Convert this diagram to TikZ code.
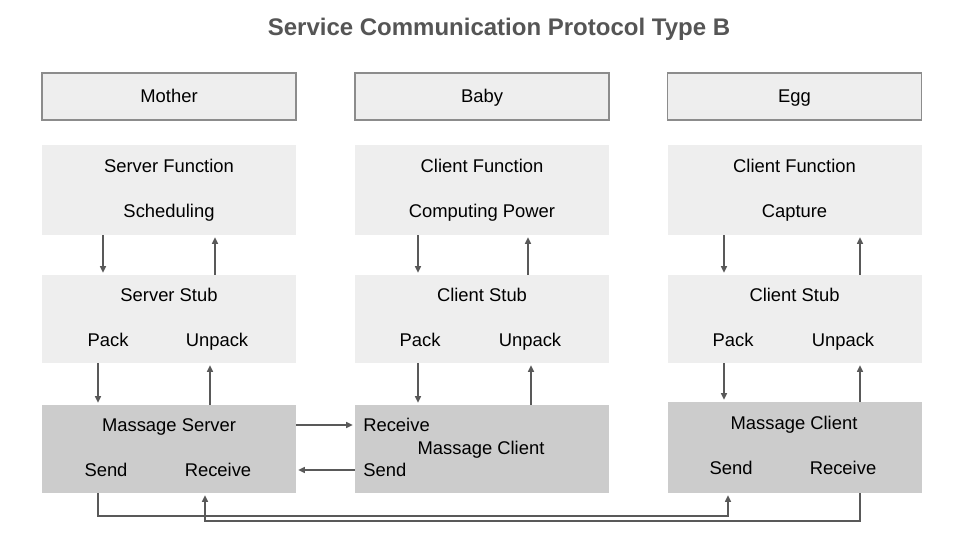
\documentclass[tikz,border=0pt]{standalone}
\usepackage{fontspec}
\setmainfont{Liberation Sans}
\usetikzlibrary{arrows.meta,calc}
\definecolor{lightbox}{HTML}{EEEEEE}
\definecolor{darkbox}{HTML}{CCCCCC}
\definecolor{boxline}{HTML}{8C8C8C}
\definecolor{linec}{HTML}{595959}
\definecolor{titlec}{HTML}{555555}
\begin{document}
\begin{tikzpicture}[x=0.75pt,y=-0.75pt,
  hdrbox/.style={draw=boxline,line width=0.8pt,fill=lightbox,minimum width=190.5pt,minimum height=35.25pt,inner sep=0pt},
  lbox/.style={fill=lightbox,minimum width=190.5pt,inner sep=0pt},
  dbox/.style={fill=darkbox,minimum width=190.5pt,inner sep=0pt},
  txt/.style={font=\fontsize{13.8}{16}\selectfont,text=black,inner sep=0pt,text height=9.8pt,text depth=0pt},
  arr/.style={draw=linec,line width=1.1pt,-{Triangle[length=5pt,width=4.5pt]},shorten >=1.5pt}
]
\useasboundingbox (0,0) rectangle (960,540);
\node[font=\bfseries\fontsize{18}{21}\selectfont,text=titlec] (title) at (499,29) {Service Communication Protocol Type B};

% header boxes
\node[hdrbox] (h1) at (169,96.5) {};
\node[hdrbox] (h2) at (482,96.5) {};
\node[hdrbox] (h3) at (794.5,96.5) {};
\node[txt] (th1) at (169,96) {Mother};
\node[txt] (th2) at (482,96) {Baby};
\node[txt] (th3) at (794.5,96) {Egg};

% function boxes
\node[lbox,minimum height=67.5pt] (f1) at (169,190) {};
\node[lbox,minimum height=67.5pt] (f2) at (482,190) {};
\node[lbox,minimum height=67.5pt] (f3) at (794.5,190) {};
\node[txt] (tf1) at (169,166) {Server Function};
\node[txt] (tg1) at (169,211) {Scheduling};
\node[txt] (tf2) at (482,166) {Client Function};
\node[txt] (tg2) at (482,211) {Computing Power};
\node[txt] (tf3) at (794.5,166) {Client Function};
\node[txt] (tg3) at (794.5,211) {Capture};

% stub boxes
\node[lbox,minimum height=66pt] (s1) at (169,319) {};
\node[lbox,minimum height=66pt] (s2) at (482,319) {};
\node[lbox,minimum height=66pt] (s3) at (794.5,319) {};
\node[txt] (ts1) at (169,295) {Server Stub};
\node[txt] (ts2) at (482,295) {Client Stub};
\node[txt] (ts3) at (794.5,295) {Client Stub};
\node[txt] (pk1) at (108,340) {Pack};
\node[txt] (up1) at (217,340) {Unpack};
\node[txt] (pk2) at (420,340) {Pack};
\node[txt] (up2) at (530,340) {Unpack};
\node[txt] (pk3) at (733,340) {Pack};
\node[txt] (up3) at (843,340) {Unpack};

% massage boxes
\node[dbox,minimum height=66pt] (m1) at (169,449) {};
\node[dbox,minimum height=66pt] (m2) at (482,449) {};
\node[dbox,minimum height=68.25pt] (m3) at (794.5,447.5) {};
\node[txt] (tm1) at (169,425) {Massage Server};
\node[txt] (snd1) at (106,470) {Send};
\node[txt] (rcv1) at (218,470) {Receive};
\node[txt,anchor=west] (rcv2) at (363,425) {Receive};
\node[txt] (tm2) at (481,448) {Massage Client};
\node[txt,anchor=west] (snd2) at (363,470) {Send};
\node[txt] (tm3) at (794,423) {Massage Client};
\node[txt] (snd3) at (731,468) {Send};
\node[txt] (rcv3) at (843,468) {Receive};

% vertical arrows
\foreach \c/\fd/\fu/\sd/\su in {1/103/215/98/210, 2/418/528/418/531, 3/724/860/724/860} {
  \coordinate (xfd\c) at (\fd,0);
  \coordinate (xfu\c) at (\fu,0);
  \coordinate (xsd\c) at (\sd,0);
  \coordinate (xsu\c) at (\su,0);
  \draw[arr] (f\c.south -| xfd\c) -- (s\c.north -| xfd\c);
  \draw[arr] (s\c.north -| xfu\c) -- (f\c.south -| xfu\c);
  \draw[arr] (s\c.south -| xsd\c) -- (m\c.north -| xsd\c);
  \draw[arr] (m\c.north -| xsu\c) -- (s\c.south -| xsu\c);
}

% horizontal arrows between Mother and Baby
\draw[arr] (m1.east |- tm1) -- (m2.west |- tm1);
\draw[arr] (m2.west |- snd2) -- (m1.east |- snd2);

% bottom links
\coordinate (bl1) at (98,516);
\coordinate (bs3) at (728,516);
\coordinate (br3) at (860,521);
\coordinate (bm1) at (205,521);
\draw[arr] (m1.south -| bl1) -- (bl1) -- (bs3) -- (m3.south -| bs3);
\draw[arr] (m3.south -| br3) -- (br3) -- (bm1) -- (m1.south -| bm1);
\end{tikzpicture}
\end{document}
